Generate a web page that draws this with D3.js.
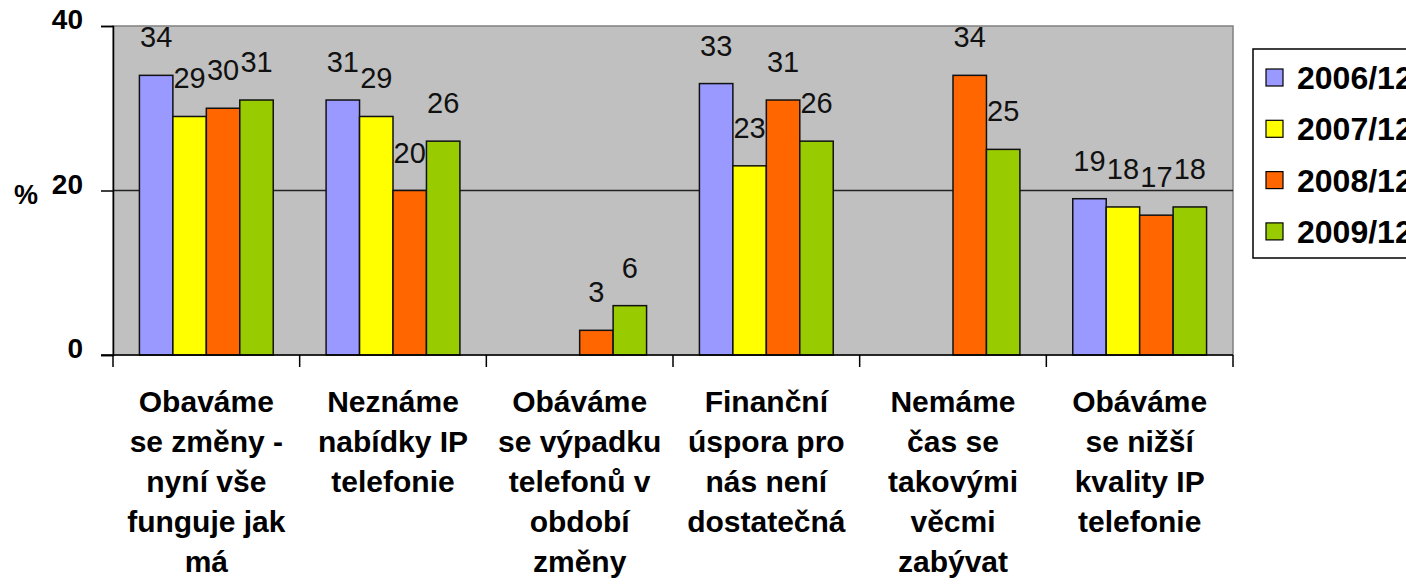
<!DOCTYPE html>
<html>
<head>
<meta charset="utf-8">
<script src="https://cdn.jsdelivr.net/npm/d3@7"></script>
<style>
  body { margin: 0; background: #fff; }
  text { font-family: "Liberation Sans", Arial, sans-serif; }
</style>
</head>
<body>
<script>
// data
var categories = [
    ["Obaváme", "se změny -", "nyní vše", "funguje jak", "má"],
    ["Neznáme", "nabídky IP", "telefonie"],
    ["Obáváme", "se výpadku", "telefonů v", "období", "změny"],
    ["Finanční", "úspora pro", "nás není", "dostatečná"],
    ["Nemáme", "čas se", "takovými", "věcmi", "zabývat"],
    ["Obáváme", "se nižší", "kvality IP", "telefonie"]
];
var series = ["2006/12", "2007/12", "2008/12", "2009/12"];
var v2006 = [34, 31, null, 33, null, 19];
var v2007 = [29, 29, null, 23, null, 18];
var v2008 = [30, 20, 3, 31, 34, 17];
var v2009 = [31, 26, 6, 26, 25, 18];
var yTicks = [0, 20, 40];
var colors = ["#9999ff", "#ffff00", "#ff6600", "#99cc00"];

var values = [v2006, v2007, v2008, v2009];

var width = 1406, height = 584;
var margin = {top: 26, left: 113, right: 173, bottom: 229};
var plotW = width - margin.left - margin.right,
    plotH = height - margin.top - margin.bottom;

var svg = d3.select("body").append("svg")
    .attr("width", width)
    .attr("height", height);

var g = svg.append("g")
    .attr("transform", "translate(" + margin.left + "," + margin.top + ")");

var x = d3.scaleBand().domain(d3.range(categories.length)).range([0, plotW]).padding(0);
var xs = d3.scaleBand().domain(series).range([0, x.bandwidth()]).paddingInner(0).paddingOuter(0.79);
var y = d3.scaleLinear().domain([0, 40]).range([plotH, 0]);

// plot background
g.append("rect")
    .attr("width", plotW).attr("height", plotH)
    .attr("fill", "#c0c0c0")
    .attr("stroke", "#808080").attr("stroke-width", 1.5);

// gridline at 20
g.append("line")
    .attr("x1", 0).attr("x2", plotW)
    .attr("y1", y(20)).attr("y2", y(20))
    .attr("stroke", "#222").attr("stroke-width", 1.5);

// bars
var flat = [];
categories.forEach(function (c, ci) {
    series.forEach(function (s, si) {
        if (values[si][ci] != null) flat.push({ci: ci, s: s, si: si, v: values[si][ci]});
    });
});

g.selectAll(".bar")
    .data(flat)
    .enter().append("rect")
    .attr("class", "bar")
    .attr("x", function (d) { return x(d.ci) + xs(d.s); })
    .attr("y", function (d) { return y(d.v); })
    .attr("width", xs.bandwidth())
    .attr("height", function (d) { return y(0) - y(d.v); })
    .attr("fill", function (d) { return colors[d.si]; })
    .attr("stroke", "#111").attr("stroke-width", 1.5);

// value labels
g.selectAll(".val")
    .data(flat)
    .enter().append("text")
    .attr("class", "val")
    .attr("x", function (d) { return x(d.ci) + xs(d.s) + xs.bandwidth() / 2; })
    .attr("y", function (d) { return y(d.v) - 28; })
    .attr("text-anchor", "middle")
    .style("font-size", "29px")
    .attr("fill", "#111")
    .text(function (d) { return d.v; });

// y axis
var yAxis = g.append("g")
    .call(d3.axisLeft(y).tickValues(yTicks).tickSize(12).tickPadding(18));
yAxis.select(".domain").attr("stroke", "#000").attr("stroke-width", 1.5);
yAxis.selectAll(".tick line").attr("stroke", "#000").attr("stroke-width", 1.5);
yAxis.selectAll(".tick text")
    .style("font-size", "28px").style("font-weight", "bold")
    .attr("fill", "#000").attr("dy", "0.1em");

svg.append("text")
    .attr("x", 14).attr("y", y(20) + margin.top + 13)
    .style("font-size", "27px").style("font-weight", "bold")
    .text("%");

// x axis
g.append("line")
    .attr("x1", -12).attr("x2", plotW)
    .attr("y1", plotH).attr("y2", plotH)
    .attr("stroke", "#000").attr("stroke-width", 1.5);

var bounds = d3.range(categories.length).map(function (i) { return x(i); }).concat([plotW]);
g.selectAll(".xtick")
    .data(bounds)
    .enter().append("line")
    .attr("x1", function (d) { return d; }).attr("x2", function (d) { return d; })
    .attr("y1", plotH).attr("y2", plotH + 12)
    .attr("stroke", "#000").attr("stroke-width", 1.5);

// category labels
var catLabels = g.selectAll(".cat")
    .data(categories)
    .enter().append("text")
    .attr("class", "cat")
    .attr("text-anchor", "middle")
    .style("font-size", "30px").style("font-weight", "bold")
    .attr("fill", "#000");

catLabels.selectAll("tspan")
    .data(function (d, i) { return d.map(function (line) { return {line: line, ci: i}; }); })
    .enter().append("tspan")
    .attr("x", function (d) { return x(d.ci) + x.bandwidth() / 2; })
    .attr("y", function (d, i) { return plotH + 57 + i * 40; })
    .text(function (d) { return d.line; });

// legend
var legend = svg.append("g").attr("transform", "translate(1253,49)");
legend.append("rect")
    .attr("width", 200).attr("height", 209)
    .attr("fill", "#fff").attr("stroke", "#000").attr("stroke-width", 1.5);

var items = legend.selectAll(".item")
    .data(series)
    .enter().append("g")
    .attr("transform", function (d, i) { return "translate(13," + (29 + i * 51.3) + ")"; });

items.append("rect")
    .attr("x", 0).attr("y", -9)
    .attr("width", 17).attr("height", 17)
    .attr("fill", function (d, i) { return colors[i]; })
    .attr("stroke", "#000").attr("stroke-width", 1.2);

items.append("text")
    .attr("x", 31).attr("y", 11)
    .style("font-size", "32px").style("font-weight", "bold")
    .text(function (d) { return d; });
</script>
</body>
</html>
